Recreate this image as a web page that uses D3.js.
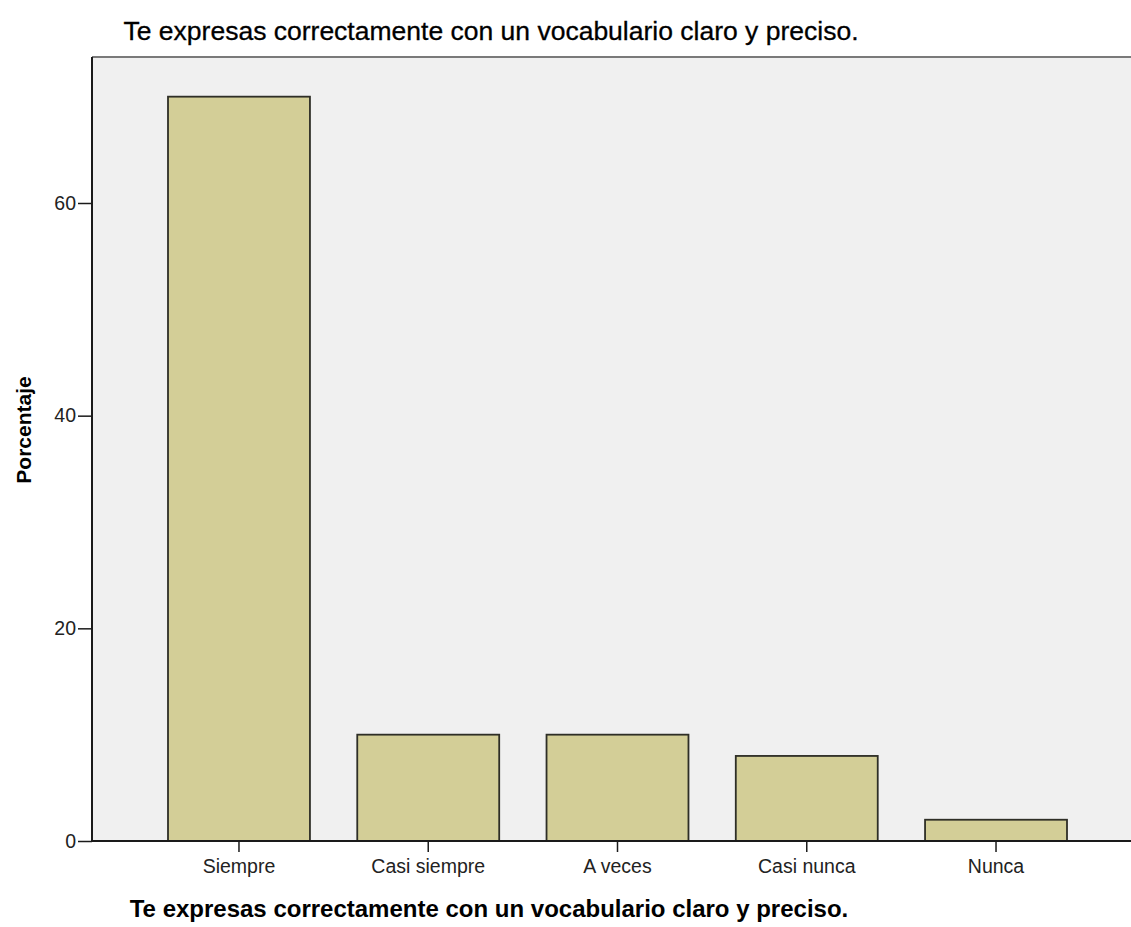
<!DOCTYPE html>
<html>
<head>
<meta charset="utf-8">
<script src="https://cdn.jsdelivr.net/npm/d3@7"></script>
<style>
  html, body { margin: 0; padding: 0; background: #ffffff; }
  svg { display: block; }
</style>
</head>
<body>
<svg id="chart" width="1131" height="927"></svg>
<script>
const categories = ["Siempre", "Casi siempre", "A veces", "Casi nunca", "Nunca"];
const values = [70, 10, 10, 8, 2];
const yTicks = [0, 20, 40, 60];
const titleText = "Te expresas correctamente con un vocabulario claro y preciso.";
const xTitleText = "Te expresas correctamente con un vocabulario claro y preciso.";
const yTitleText = "Porcentaje";

const svg = d3.select("#chart");
const plot = { left: 92, top: 57, right: 1140, bottom: 841 };

// background panel
svg.append("rect")
  .attr("x", plot.left).attr("y", plot.top)
  .attr("width", plot.right - plot.left).attr("height", plot.bottom - plot.top)
  .attr("fill", "#f0f0f0");
// top border
svg.append("line")
  .attr("x1", plot.left).attr("x2", plot.right)
  .attr("y1", plot.top).attr("y2", plot.top)
  .attr("stroke", "#7a7a7a").attr("stroke-width", 2);

const y = d3.scaleLinear().domain([0, 60]).range([plot.bottom, 203]);
const x = d3.scaleBand().domain(categories)
  .range([168, 1067]).paddingInner(0.25).paddingOuter(0);

// bars
svg.append("g").selectAll("rect").data(values).join("rect")
  .attr("x", (d, i) => x(categories[i]))
  .attr("y", d => y(d))
  .attr("width", x.bandwidth())
  .attr("height", d => plot.bottom - y(d))
  .attr("fill", "#d3ce97")
  .attr("stroke", "#2e2e26")
  .attr("stroke-width", 1.8);

// y axis
const yAxis = svg.append("g")
  .attr("transform", `translate(${plot.left},0)`)
  .call(d3.axisLeft(y).tickValues(yTicks).tickSize(14).tickPadding(2).tickFormat(d3.format("d")));
yAxis.select(".domain").attr("d", `M0,${plot.top}V${plot.bottom}`).attr("stroke", "#1a1a1a").attr("stroke-width", 2);
yAxis.selectAll(".tick line").attr("stroke", "#1a1a1a").attr("stroke-width", 1.5);
yAxis.selectAll("text").attr("font-family", "Liberation Sans, Arial, sans-serif")
  .attr("font-size", 19.5).attr("fill", "#222");

// x axis
const xAxis = svg.append("g")
  .attr("transform", `translate(0,${plot.bottom})`)
  .call(d3.axisBottom(x).tickSize(11).tickPadding(7));
xAxis.select(".domain").attr("d", `M${plot.left},0H${plot.right}`).attr("stroke", "#1a1a1a").attr("stroke-width", 2);
xAxis.selectAll(".tick line").attr("stroke", "#1a1a1a").attr("stroke-width", 1.5);
xAxis.selectAll("text").attr("font-family", "Liberation Sans, Arial, sans-serif")
  .attr("font-size", 19.5).attr("fill", "#222");

// titles
svg.append("text")
  .attr("x", 491).attr("y", 40)
  .attr("text-anchor", "middle")
  .attr("font-family", "Liberation Sans, Arial, sans-serif")
  .attr("font-size", 26.5).attr("fill", "#000")
  .attr("stroke", "#000").attr("stroke-width", 0.3)
  .text(titleText);

svg.append("text")
  .attr("x", 489).attr("y", 917)
  .attr("text-anchor", "middle")
  .attr("font-family", "Liberation Sans, Arial, sans-serif")
  .attr("font-weight", "bold")
  .attr("font-size", 24).attr("fill", "#000")
  .text(xTitleText);

svg.append("text")
  .attr("transform", "translate(31,430) rotate(-90)")
  .attr("text-anchor", "middle")
  .attr("font-family", "Liberation Sans, Arial, sans-serif")
  .attr("font-weight", "bold")
  .attr("font-size", 21).attr("fill", "#000")
  .text(yTitleText);
</script>
</body>
</html>
